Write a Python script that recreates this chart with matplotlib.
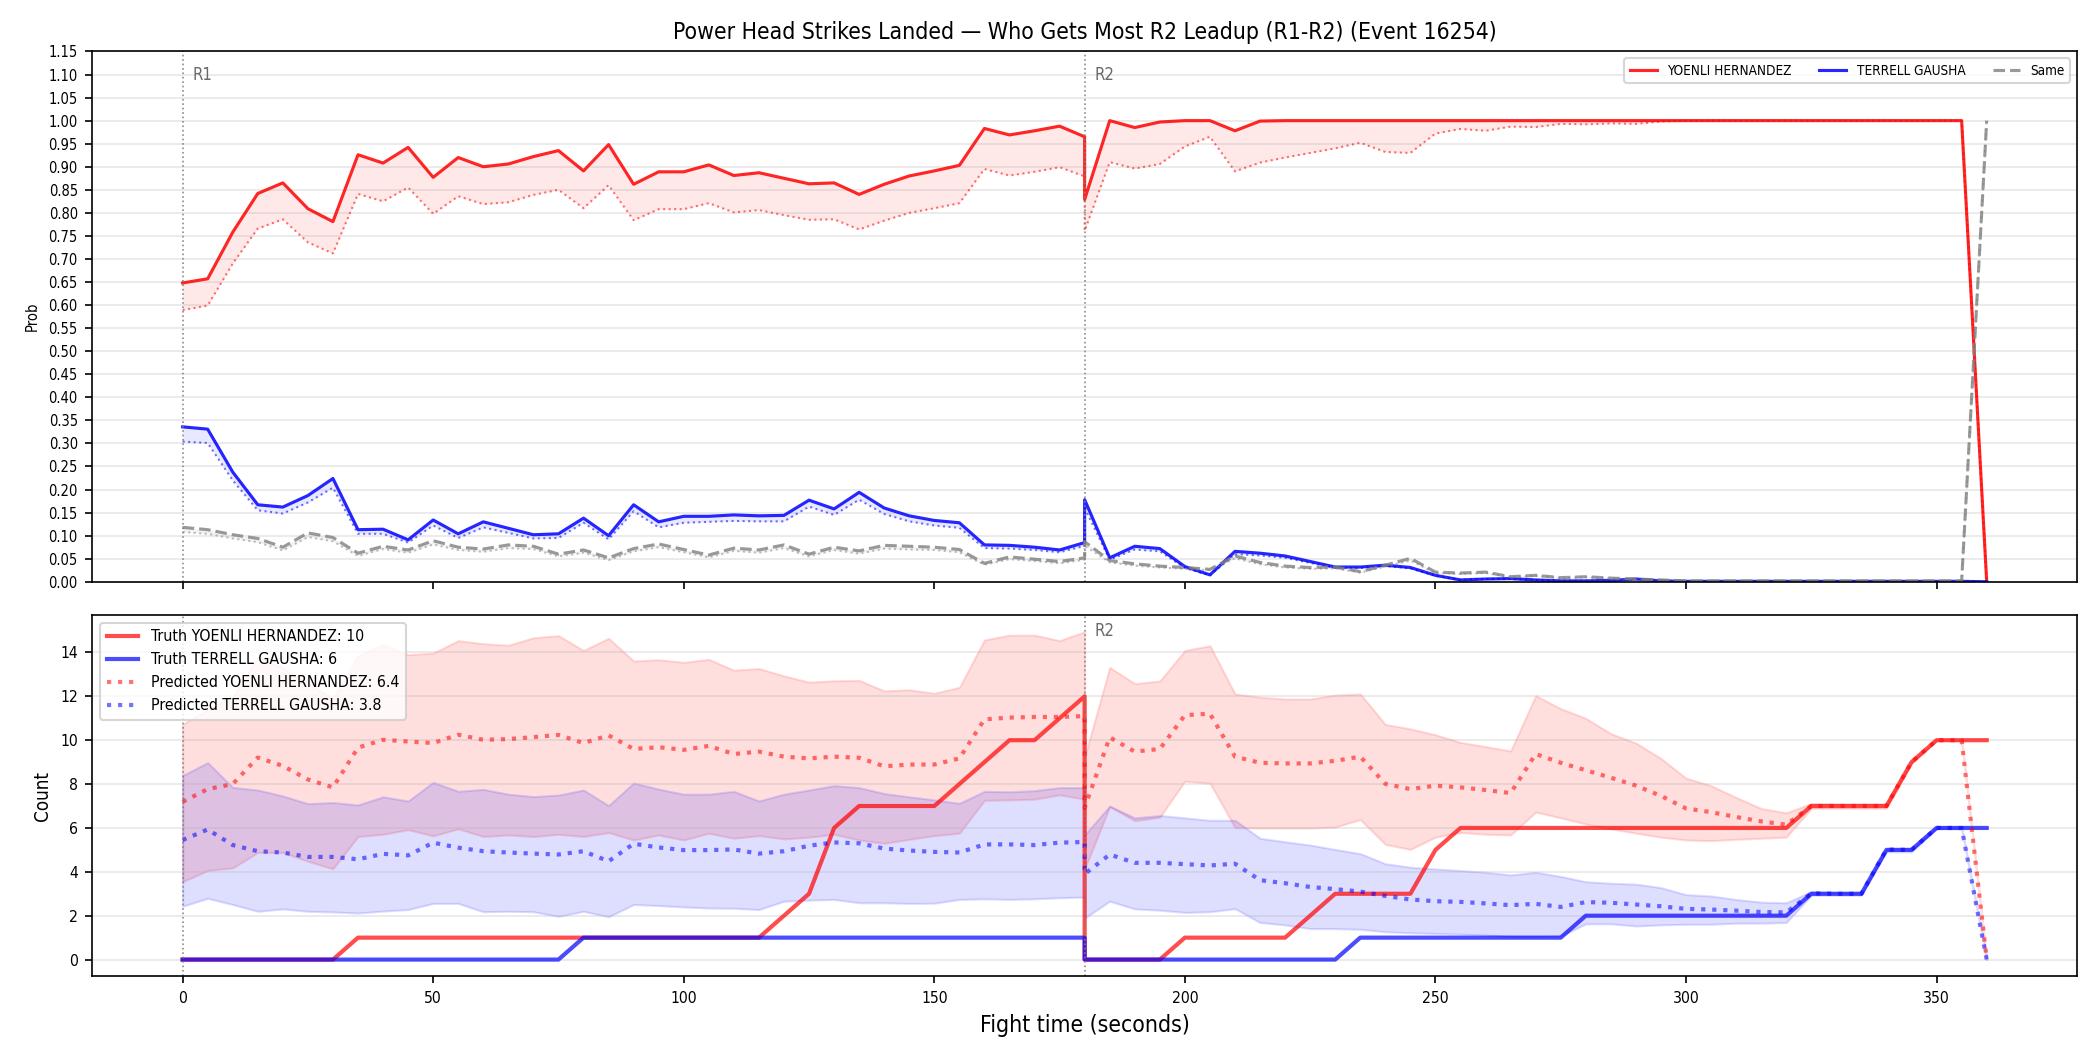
import numpy as np
import matplotlib
matplotlib.use("Agg")
import matplotlib.pyplot as plt

plt.rcParams['font.family'] = ['DejaVu Sans']
plt.rcParams['font.stretch'] = 'condensed'

# --- data ---
# fight time in seconds, round 1 and round 2 (both include t=180)
t_r1 = [0, 5, 10, 15, 20, 25, 30, 35, 40, 45, 50, 55, 60, 65, 70, 75, 80, 85, 90, 95,
        100, 105, 110, 115, 120, 125, 130, 135, 140, 145, 150, 155, 160, 165, 170, 175, 180]
t_r2 = [180, 185, 190, 195, 200, 205, 210, 215, 220, 225, 230, 235, 240, 245, 250, 255, 260, 265, 270, 275,
        280, 285, 290, 295, 300, 305, 310, 315, 320, 325, 330, 335, 340, 345, 350, 355, 360]

red_name = "YOENLI HERNANDEZ"
blue_name = "TERRELL GAUSHA"

# top panel: win probabilities (solid) and the dotted companion line
p_red = [0.648, 0.657, 0.758, 0.842, 0.865, 0.809, 0.781, 0.926, 0.908, 0.942, 0.877, 0.920, 0.900, 0.906,
         0.922, 0.935, 0.891, 0.948, 0.862, 0.889, 0.889, 0.904, 0.881, 0.887, 0.875, 0.863, 0.865, 0.840,
         0.862, 0.880, 0.891, 0.903, 0.983, 0.969, 0.978, 0.988, 0.965,
         0.829, 1.000, 0.985, 0.997, 1.000, 1.000, 0.978, 0.999, 1.000, 1.000, 1.000, 1.000, 1.000, 1.000,
         1.000, 1.000, 1.000, 1.000, 1.000, 1.000, 1.000, 1.000, 1.000, 1.000, 1.000, 1.000, 1.000, 1.000,
         1.000, 1.000, 1.000, 1.000, 1.000, 1.000, 1.000, 1.000, 0.000]
p_red_alt = [0.589, 0.599, 0.690, 0.766, 0.786, 0.736, 0.712, 0.841, 0.825, 0.855, 0.798, 0.836, 0.819, 0.823,
             0.839, 0.850, 0.810, 0.860, 0.784, 0.808, 0.808, 0.821, 0.801, 0.806, 0.795, 0.785, 0.786, 0.764,
             0.783, 0.800, 0.810, 0.821, 0.895, 0.881, 0.889, 0.899, 0.879,
             0.761, 0.910, 0.896, 0.906, 0.944, 0.965, 0.890, 0.909, 0.920, 0.930, 0.940, 0.952, 0.932, 0.930,
             0.972, 0.982, 0.978, 0.987, 0.986, 0.993, 0.992, 0.994, 0.993, 0.998, 1.000, 1.000, 1.000, 1.000,
             1.000, 1.000, 1.000, 1.000, 1.000, 1.000, 1.000, 1.000, 0.000]
p_blue = [0.336, 0.331, 0.238, 0.167, 0.162, 0.187, 0.224, 0.113, 0.114, 0.091, 0.134, 0.104, 0.130, 0.116,
          0.102, 0.104, 0.138, 0.100, 0.167, 0.130, 0.142, 0.142, 0.145, 0.143, 0.144, 0.177, 0.158, 0.194,
          0.160, 0.143, 0.133, 0.128, 0.080, 0.079, 0.075, 0.069, 0.085,
          0.178, 0.052, 0.077, 0.072, 0.033, 0.015, 0.066, 0.062, 0.056, 0.044, 0.032, 0.032, 0.036, 0.031,
          0.014, 0.004, 0.006, 0.007, 0.004, 0.002, 0.002, 0.003, 0.006, 0.002, 0.001, 0.001, 0.001, 0.001,
          0.001, 0.001, 0.001, 0.001, 0.001, 0.001, 0.001, 0.001, 0.000]
p_blue_alt = [0.304, 0.301, 0.220, 0.155, 0.148, 0.172, 0.204, 0.104, 0.104, 0.085, 0.122, 0.095, 0.118, 0.106,
              0.094, 0.095, 0.128, 0.092, 0.153, 0.118, 0.128, 0.130, 0.132, 0.131, 0.131, 0.163, 0.145, 0.178,
              0.147, 0.131, 0.122, 0.117, 0.073, 0.072, 0.069, 0.064, 0.078,
              0.160, 0.048, 0.070, 0.066, 0.030, 0.014, 0.060, 0.057, 0.052, 0.041, 0.030, 0.030, 0.034, 0.029,
              0.013, 0.004, 0.006, 0.006, 0.004, 0.002, 0.002, 0.003, 0.005, 0.002, 0.001, 0.001, 0.001, 0.001,
              0.001, 0.001, 0.001, 0.001, 0.001, 0.001, 0.001, 0.001, 0.000]
p_same = [0.118, 0.113, 0.102, 0.094, 0.075, 0.106, 0.096, 0.062, 0.077, 0.069, 0.089, 0.075, 0.071, 0.080,
          0.077, 0.060, 0.069, 0.052, 0.072, 0.082, 0.070, 0.058, 0.073, 0.069, 0.080, 0.060, 0.075, 0.067,
          0.079, 0.077, 0.075, 0.070, 0.040, 0.054, 0.049, 0.044, 0.052,
          0.087, 0.046, 0.039, 0.034, 0.031, 0.027, 0.056, 0.042, 0.034, 0.031, 0.032, 0.022, 0.036, 0.051,
          0.021, 0.019, 0.021, 0.011, 0.014, 0.009, 0.011, 0.008, 0.006, 0.004, 0.002, 0.002, 0.002, 0.002,
          0.002, 0.002, 0.002, 0.002, 0.002, 0.002, 0.002, 0.002, 1.000]
p_same_alt = [0.108, 0.104, 0.094, 0.086, 0.068, 0.097, 0.088, 0.056, 0.071, 0.063, 0.081, 0.069, 0.065, 0.073,
              0.071, 0.055, 0.063, 0.047, 0.066, 0.075, 0.064, 0.053, 0.067, 0.063, 0.073, 0.055, 0.069, 0.061,
              0.072, 0.070, 0.069, 0.064, 0.037, 0.049, 0.045, 0.040, 0.048,
              0.078, 0.042, 0.035, 0.031, 0.028, 0.025, 0.051, 0.038, 0.031, 0.028, 0.029, 0.020, 0.033, 0.046,
              0.019, 0.017, 0.019, 0.010, 0.013, 0.008, 0.010, 0.007, 0.005, 0.004, 0.002, 0.002, 0.002, 0.002,
              0.002, 0.002, 0.002, 0.002, 0.002, 0.002, 0.002, 0.002, 1.000]

# bottom panel: cumulative counts
truth_red = [0, 0, 0, 0, 0, 0, 0, 1, 1, 1, 1, 1, 1, 1, 1, 1, 1, 1, 1, 1, 1, 1, 1, 1, 2, 3, 6, 7, 7, 7,
             7, 8, 9, 10, 10, 11, 12,
             0, 0, 0, 0, 1, 1, 1, 1, 1, 2, 3, 3, 3, 3, 5, 6, 6, 6, 6, 6, 6, 6, 6, 6, 6, 6, 6, 6, 6, 7, 7,
             7, 7, 9, 10, 10, 10]
truth_blue = [0, 0, 0, 0, 0, 0, 0, 0, 0, 0, 0, 0, 0, 0, 0, 0, 1, 1, 1, 1, 1, 1, 1, 1, 1, 1, 1, 1, 1, 1,
              1, 1, 1, 1, 1, 1, 1,
              0, 0, 0, 0, 0, 0, 0, 0, 0, 0, 0, 1, 1, 1, 1, 1, 1, 1, 1, 1, 2, 2, 2, 2, 2, 2, 2, 2, 2, 3,
              3, 3, 5, 5, 6, 6, 6]
pred_red = [7.19, 7.77, 8.00, 9.21, 8.83, 8.21, 7.85, 9.66, 10.02, 9.94, 9.87, 10.25, 10.02, 10.05, 10.14,
            10.24, 9.87, 10.22, 9.60, 9.68, 9.56, 9.74, 9.37, 9.48, 9.25, 9.17, 9.25, 9.20, 8.81, 8.89, 8.89,
            9.17, 10.95, 11.03, 11.06, 11.06, 11.10,
            6.92, 10.13, 9.48, 9.60, 11.14, 11.21, 9.25, 8.97, 8.94, 8.94, 9.06, 9.25, 8.01, 7.77, 7.93, 7.85,
            7.73, 7.59, 9.37, 8.97, 8.63, 8.29, 7.93, 7.46, 6.89, 6.72, 6.50, 6.30, 6.15, 7.00, 7.00, 7.00,
            7.00, 9.00, 10.00, 10.00, 0.00]
pred_red_hi = [10.72, 11.40, 11.97, 13.77, 13.30, 12.60, 11.90, 13.85, 14.35, 13.90, 13.97, 14.54, 14.40, 14.33,
               14.67, 14.77, 14.09, 14.65, 13.61, 13.67, 13.55, 13.69, 13.19, 13.27, 12.93, 12.65, 12.71, 12.73,
               12.25, 12.30, 12.14, 12.41, 14.57, 14.79, 14.79, 14.54, 14.95,
               9.25, 13.32, 12.58, 12.70, 14.09, 14.31, 12.11, 11.96, 11.88, 11.88, 12.06, 12.11, 10.72, 10.52,
               10.25, 9.90, 9.71, 9.51, 12.03, 11.44, 11.00, 10.30, 9.87, 9.17, 8.27, 7.93, 7.39, 6.89, 6.69,
               7.12, 7.10, 7.10, 7.10, 9.01, 10.02, 10.02, 0.00]
pred_red_lo = [3.55, 4.06, 4.18, 4.88, 4.88, 4.48, 4.14, 5.61, 5.71, 5.92, 5.64, 5.96, 5.61, 5.68, 5.61, 5.71,
               5.61, 5.79, 5.45, 5.68, 5.45, 5.76, 5.53, 5.65, 5.50, 5.58, 5.71, 5.45, 5.30, 5.48, 5.65, 5.76,
               7.26, 7.28, 7.31, 7.51, 7.31,
               4.13, 6.97, 6.33, 6.49, 8.13, 8.04, 6.02, 5.99, 5.99, 5.99, 6.04, 6.38, 5.25, 5.02, 5.58, 5.79,
               5.71, 5.68, 6.72, 6.46, 6.18, 5.96, 5.76, 5.58, 5.45, 5.42, 5.48, 5.53, 5.58, 6.89, 6.89, 6.89,
               6.89, 8.94, 9.99, 9.99, 0.00]
pred_blue = [5.45, 5.93, 5.22, 4.94, 4.88, 4.68, 4.68, 4.57, 4.82, 4.75, 5.33, 5.10, 4.94, 4.88, 4.83, 4.79,
             4.94, 4.48, 5.28, 5.11, 4.99, 4.99, 5.02, 4.83, 4.94, 5.19, 5.34, 5.30, 5.06, 4.97, 4.91, 4.88,
             5.25, 5.25, 5.22, 5.33, 5.36,
             3.90, 4.79, 4.41, 4.41, 4.35, 4.29, 4.37, 3.62, 3.48, 3.31, 3.21, 3.10, 2.90, 2.74, 2.66, 2.63,
             2.56, 2.48, 2.54, 2.40, 2.62, 2.59, 2.51, 2.43, 2.31, 2.28, 2.23, 2.17, 2.15, 3.02, 3.00, 3.00,
             5.02, 5.00, 6.00, 6.00, 0.00]
pred_blue_hi = [8.39, 8.98, 7.85, 7.73, 7.46, 7.11, 7.16, 7.05, 7.42, 7.23, 8.08, 7.67, 7.76, 7.54, 7.43, 7.50,
                7.73, 7.02, 8.05, 7.77, 7.54, 7.54, 7.67, 7.23, 7.54, 7.73, 7.93, 7.84, 7.57, 7.42, 7.28, 7.12,
                7.67, 7.65, 7.70, 7.84, 7.84,
                5.68, 7.00, 6.46, 6.57, 6.46, 6.35, 6.35, 5.53, 5.37, 5.22, 5.02, 4.83, 4.37, 4.21, 4.13, 4.06,
                3.98, 3.86, 3.98, 3.79, 3.55, 3.48, 3.44, 3.28, 2.96, 2.90, 2.74, 2.62, 2.59, 3.10, 3.05, 3.05,
                5.05, 5.05, 6.05, 6.05, 0.00]
pred_blue_lo = [2.43, 2.79, 2.51, 2.20, 2.31, 2.20, 2.17, 2.12, 2.21, 2.28, 2.56, 2.56, 2.18, 2.20, 2.18, 1.97,
                2.20, 1.95, 2.51, 2.46, 2.40, 2.35, 2.34, 2.28, 2.66, 2.71, 2.74, 2.59, 2.59, 2.56, 2.57, 2.74,
                2.77, 2.74, 2.77, 2.82, 2.85,
                1.89, 2.66, 2.31, 2.25, 2.15, 2.18, 2.32, 1.69, 1.58, 1.41, 1.41, 1.38, 1.27, 1.22, 1.19, 1.16,
                1.12, 1.04, 1.04, 1.07, 1.63, 1.63, 1.53, 1.58, 1.61, 1.61, 1.66, 1.66, 1.69, 2.93, 2.93, 2.93,
                4.91, 4.91, 5.96, 5.96, 0.00]

final_truth_red = 10
final_truth_blue = 6
final_pred_red = 6.4
final_pred_blue = 3.8

t = np.array(t_r1 + t_r2)

fig, (ax1, ax2) = plt.subplots(2, 1, figsize=(14, 7), dpi=150, sharex=True,
                               gridspec_kw={'height_ratios': [1.47, 1]})
fig.subplots_adjust(left=0.044, right=0.989, top=0.951, bottom=0.0705, hspace=0.075)

# --- top: probabilities ---
ax1.plot(t, p_red, color='red', lw=1.5, alpha=0.85, label=red_name)
ax1.plot(t, p_red_alt, color='red', lw=1, ls=':', alpha=0.55)
ax1.fill_between(t, p_red_alt, p_red, color='red', alpha=0.09, lw=0)
ax1.plot(t, p_blue, color='blue', lw=1.5, alpha=0.85, label=blue_name)
ax1.plot(t, p_blue_alt, color='blue', lw=1, ls=':', alpha=0.55)
ax1.fill_between(t, p_blue_alt, p_blue, color='blue', alpha=0.09, lw=0)
ax1.plot(t, p_same, color='gray', lw=1.5, ls='--', alpha=0.8, label='Same')
ax1.plot(t, p_same_alt, color='gray', lw=1, ls=':', alpha=0.5)
ax1.fill_between(t, p_same_alt, p_same, color='gray', alpha=0.09, lw=0)

ax1.set_ylim(0, 1.15)
ax1.set_yticks(np.arange(0, 1.151, 0.05))
ax1.set_ylabel('Prob', fontsize=7)
ax1.tick_params(labelsize=7)
ax1.grid(axis='y', alpha=0.3)
ax1.set_title('Power Head Strikes Landed — Who Gets Most R2 Leadup (R1-R2) (Event 16254)', fontsize=11)
ax1.legend(loc='upper right', ncol=3, fontsize=6.5)

# --- bottom: counts ---
ax2.fill_between(t, pred_red_lo, pred_red_hi, color='red', alpha=0.13, lw=1, edgecolor=(1, 0, 0, 0.15))
ax2.fill_between(t, pred_blue_lo, pred_blue_hi, color='blue', alpha=0.13, lw=1, edgecolor=(0, 0, 1, 0.15))
ax2.plot(t, truth_red, color='red', lw=2, alpha=0.7, label=f'Truth {red_name}: {final_truth_red}')
ax2.plot(t, truth_blue, color='blue', lw=2, alpha=0.7, label=f'Truth {blue_name}: {final_truth_blue}')
ax2.plot(t, pred_red, color='red', lw=2, ls=':', alpha=0.55, label=f'Predicted {red_name}: {final_pred_red}')
ax2.plot(t, pred_blue, color='blue', lw=2, ls=':', alpha=0.55, label=f'Predicted {blue_name}: {final_pred_blue}')

ax2.set_ylabel('Count', fontsize=9)
ax2.set_xlabel('Fight time (seconds)', fontsize=11)
ax2.tick_params(labelsize=7.5)
ax2.grid(axis='y', alpha=0.3)

# round markers (R1 on the lower panel sits under the legend, as in the source)
for ax in (ax1, ax2):
    for x0, lab in [(0, 'R1'), (180, 'R2')]:
        ax.axvline(x0, color='gray', ls=':', lw=0.8, alpha=0.9)
        if ax is ax2 and x0 == 0:
            continue
        ax.text(x0 + 2, 0.955, lab, transform=ax.get_xaxis_transform(), fontsize=8,
                color='dimgray', va='center', ha='left')

ax2.legend(loc='upper left', fontsize=7.6)

plt.savefig('out.png', dpi=150)
